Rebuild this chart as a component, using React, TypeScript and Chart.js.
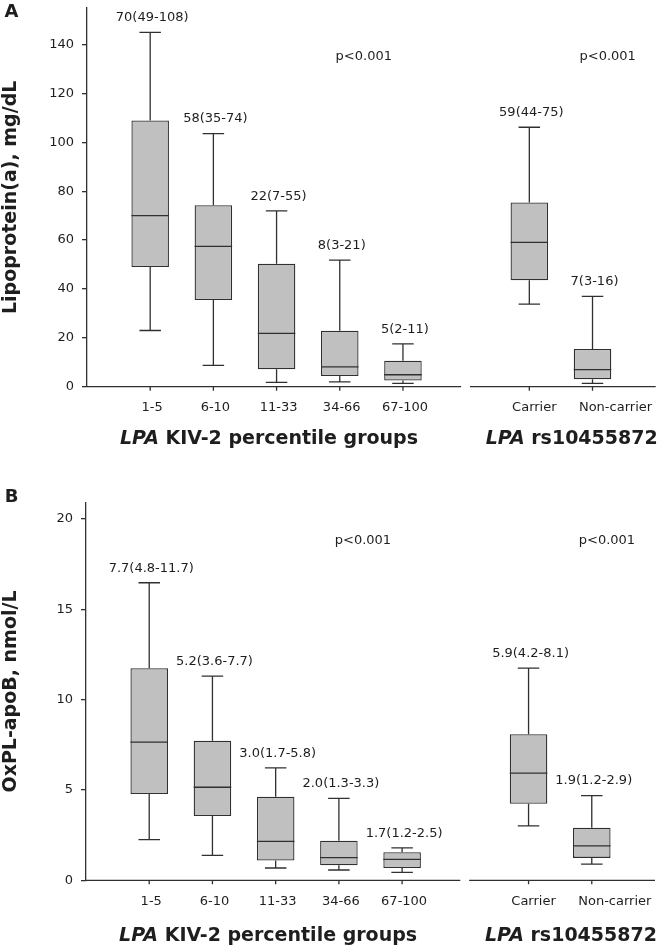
import React, { useEffect, useRef } from 'react';
import { Chart, registerables } from 'chart.js';

Chart.register(...registerables);

// ---------- data ----------
const groupLabels = ['1-5', '6-10', '11-33', '34-66', '67-100', 'Carrier', 'Non-carrier'];
const groupX = [0, 1, 2, 3, 4, 6, 7];

// Panel A: Lipoprotein(a), mg/dL
const lpaMin = [23, 8.7, 1.8, 2.0, 1.4, 33.8, 1.4];
const lpaQ1 = [49, 35.5, 7.1, 4.4, 2.5, 43.6, 3.1];
const lpaMedian = [70, 57.4, 21.8, 8.1, 4.9, 59.1, 7.0];
const lpaQ3 = [109, 74.3, 50.3, 22.9, 10.6, 75.4, 15.4];
const lpaMax = [145, 103.6, 72, 51.8, 17.5, 106.2, 37];
const lpaText = ['70(49-108)', '58(35-74)', '22(7-55)', '8(3-21)', '5(2-11)', '59(44-75)', '7(3-16)'];
const lpaTicks = [0, 20, 40, 60, 80, 100, 120, 140];

// Panel B: OxPL-apoB, nmol/L
const oxMin = [2.25, 1.38, 0.68, 0.57, 0.44, 3.01, 0.89];
const oxQ1 = [4.78, 3.56, 1.09, 0.83, 0.68, 4.24, 1.24];
const oxMedian = [7.65, 5.15, 2.16, 1.25, 1.16, 5.93, 1.9];
const oxQ3 = [11.74, 7.73, 4.63, 2.19, 1.55, 8.09, 2.91];
const oxMax = [16.47, 11.3, 6.22, 4.54, 1.79, 11.74, 4.69];
const oxText = ['7.7(4.8-11.7)', '5.2(3.6-7.7)', '3.0(1.7-5.8)', '2.0(1.3-3.3)', '1.7(1.2-2.5)', '5.9(4.2-8.1)', '1.9(1.2-2.9)'];
const oxTicks = [0, 5, 10, 15, 20];

const pText = 'p<0.001';

// ---------- styles ----------
const FONT = '"DejaVu Sans", Verdana, sans-serif';
const INK = '#1e1e1e';
const LINE = '#303030';
const BOX_FILL = '#c0c0c0';
const BOX_FRAC = 0.594;
const CAP_FRAC = 0.34;

type PanelCfg = {
  letter: string;
  yTitle: string;
  min: number[];
  q1: number[];
  med: number[];
  q3: number[];
  max: number[];
  text: string[];
  ticks: number[];
  yMax: number;
  pY: number;
  axisWidth: number;
  padding: { left: number; right: number; top: number; bottom: number };
  titleGap: number;
};

const panels: PanelCfg[] = [
  {
    letter: 'A',
    yTitle: 'Lipoprotein(a), mg/dL',
    min: lpaMin, q1: lpaQ1, med: lpaMedian, q3: lpaQ3, max: lpaMax, text: lpaText,
    ticks: lpaTicks,
    yMax: 155,
    pY: 135,
    axisWidth: 87,
    padding: { left: 0, right: 4.3, top: 8, bottom: 89.3 },
    titleGap: 52,
  },
  {
    letter: 'B',
    yTitle: 'OxPL-apoB, nmol/L',
    min: oxMin, q1: oxQ1, med: oxMedian, q3: oxQ3, max: oxMax, text: oxText,
    ticks: oxTicks,
    yMax: 20.9,
    pY: 18.8,
    axisWidth: 86,
    padding: { left: 0, right: 5, top: 26.7, bottom: 71.7 },
    titleGap: 56,
  },
];

function drawMixed(ctx: CanvasRenderingContext2D, parts: { t: string; f: string }[], cx: number, cy: number) {
  let total = 0;
  const widths = parts.map((p) => {
    ctx.font = p.f;
    const w = ctx.measureText(p.t).width;
    total += w;
    return w;
  });
  let x = cx - total / 2;
  ctx.textAlign = 'left';
  ctx.textBaseline = 'middle';
  parts.forEach((p, i) => {
    ctx.font = p.f;
    ctx.fillText(p.t, x, cy);
    x += widths[i];
  });
}

function makePlugin(cfg: PanelCfg) {
  return {
    id: 'boxExtras' + cfg.letter,
    afterDraw(chart: any) {
      const ctx: CanvasRenderingContext2D = chart.ctx;
      const a = chart.chartArea;
      const xs = chart.scales.x;
      const ys = chart.scales.y;
      const unit = xs.getPixelForValue(1) - xs.getPixelForValue(0);
      const halfBox = (unit * BOX_FRAC) / 2;
      const halfCap = (unit * CAP_FRAC) / 2;
      ctx.save();

      // whiskers, caps, medians
      ctx.strokeStyle = LINE;
      ctx.lineWidth = 1.3;
      groupX.forEach((gx, i) => {
        const cx = xs.getPixelForValue(gx);
        const yMin = ys.getPixelForValue(cfg.min[i]);
        const yQ1 = ys.getPixelForValue(cfg.q1[i]);
        const yMed = ys.getPixelForValue(cfg.med[i]);
        const yQ3 = ys.getPixelForValue(cfg.q3[i]);
        const yMax = ys.getPixelForValue(cfg.max[i]);
        ctx.beginPath();
        ctx.moveTo(cx, yQ3);
        ctx.lineTo(cx, yMax);
        ctx.moveTo(cx - halfCap, yMax);
        ctx.lineTo(cx + halfCap, yMax);
        ctx.moveTo(cx, yQ1);
        ctx.lineTo(cx, yMin);
        ctx.moveTo(cx - halfCap, yMin);
        ctx.lineTo(cx + halfCap, yMin);
        ctx.moveTo(cx - halfBox, yMed);
        ctx.lineTo(cx + halfBox, yMed);
        ctx.stroke();
      });

      // value labels
      ctx.fillStyle = INK;
      ctx.font = `13px ${FONT}`;
      ctx.textAlign = 'center';
      ctx.textBaseline = 'middle';
      groupX.forEach((gx, i) => {
        const cx = xs.getPixelForValue(gx) + 2;
        const yMax = ys.getPixelForValue(cfg.max[i]);
        ctx.fillText(cfg.text[i], cx, yMax - 14.5);
      });

      // p values
      ctx.fillText(pText, xs.getPixelForValue(3.38), ys.getPixelForValue(cfg.pY));
      ctx.fillText(pText, xs.getPixelForValue(7.24), ys.getPixelForValue(cfg.pY));

      // x axis (broken)
      ctx.strokeStyle = LINE;
      ctx.lineWidth = 1.3;
      const yb = a.bottom;
      ctx.beginPath();
      ctx.moveTo(a.left, yb);
      ctx.lineTo(xs.getPixelForValue(4.92), yb);
      ctx.moveTo(xs.getPixelForValue(5.06), yb);
      ctx.lineTo(a.right, yb);
      groupX.forEach((gx) => {
        const px = xs.getPixelForValue(gx);
        ctx.moveTo(px, yb);
        ctx.lineTo(px, yb + 4);
      });
      ctx.stroke();

      ctx.fillStyle = INK;
      ctx.font = `13px ${FONT}`;
      ctx.textAlign = 'center';
      ctx.textBaseline = 'middle';
      groupX.forEach((gx, i) => {
        const shift = i === groupX.length - 1 ? 23 : i === groupX.length - 2 ? 5 : 2;
        ctx.fillText(groupLabels[i], xs.getPixelForValue(gx) + shift, yb + 21);
      });

      // x titles
      const bi = `italic bold 19px ${FONT}`;
      const b = `bold 19px ${FONT}`;
      drawMixed(ctx, [{ t: 'LPA', f: bi }, { t: ' KIV-2 percentile groups', f: b }], xs.getPixelForValue(1.88), yb + cfg.titleGap);
      drawMixed(ctx, [{ t: 'LPA', f: bi }, { t: ' rs10455872', f: b }], xs.getPixelForValue(6.67), yb + cfg.titleGap);

      // y title
      ctx.save();
      ctx.translate(11.5, (a.top + a.bottom) / 2);
      ctx.rotate(-Math.PI / 2);
      ctx.font = b;
      ctx.textAlign = 'center';
      ctx.textBaseline = 'middle';
      ctx.fillText(cfg.yTitle, 0, 0);
      ctx.restore();

      // panel letter
      ctx.font = `bold 18px ${FONT}`;
      ctx.textAlign = 'center';
      ctx.textBaseline = 'middle';
      ctx.fillText(cfg.letter, 11.5, cfg.letter === 'A' ? 12 : 21);

      ctx.restore();
    },
  };
}

function BoxPanel({ cfg, top }: { cfg: PanelCfg; top: number }) {
  const ref = useRef<HTMLCanvasElement | null>(null);
  useEffect(() => {
    if (!ref.current) return;
    const chart = new Chart(ref.current, {
      type: 'bar',
      data: {
        datasets: [
          {
            data: groupX.map((gx, i) => ({ x: gx, y: [cfg.q1[i], cfg.q3[i]] })) as any,
            backgroundColor: BOX_FILL,
            borderColor: LINE,
            borderWidth: 1.3,
            borderSkipped: false,
            barPercentage: BOX_FRAC,
            categoryPercentage: 1,
          },
        ],
      },
      options: {
        animation: false,
        responsive: false,
        devicePixelRatio: 1,
        layout: { padding: cfg.padding },
        plugins: { legend: { display: false }, tooltip: { enabled: false } },
        scales: {
          x: { type: 'linear', min: -1, max: 8, display: false, offset: false },
          y: {
            type: 'linear',
            min: 0,
            max: cfg.yMax,
            afterFit: (scale: any) => {
              scale.width = cfg.axisWidth;
              scale.paddingTop = 0;
              scale.paddingBottom = 0;
            },
            afterBuildTicks: (scale: any) => {
              scale.ticks = cfg.ticks.map((v) => ({ value: v }));
            },
            ticks: {
              font: { family: FONT, size: 13 },
              color: INK,
              padding: 8,
              includeBounds: false,
            },
            grid: {
              drawOnChartArea: false,
              drawTicks: true,
              tickLength: 5,
              color: LINE,
              lineWidth: 1.3,
            },
            border: { display: true, color: LINE, width: 1.3 },
            title: { display: false },
          },
        },
      },
      plugins: [makePlugin(cfg)],
    });
    return () => chart.destroy();
  }, [cfg]);
  return (
    <canvas
      ref={ref}
      width={660}
      height={476}
      style={{ position: 'absolute', left: 0, top, width: 660, height: 476, display: 'block' }}
    />
  );
}

export default function App() {
  return (
    <div style={{ position: 'absolute', left: 0, top: 0, width: 660, height: 952, background: '#ffffff' }}>
      <BoxPanel cfg={panels[0]} top={0} />
      <BoxPanel cfg={panels[1]} top={476} />
    </div>
  );
}
